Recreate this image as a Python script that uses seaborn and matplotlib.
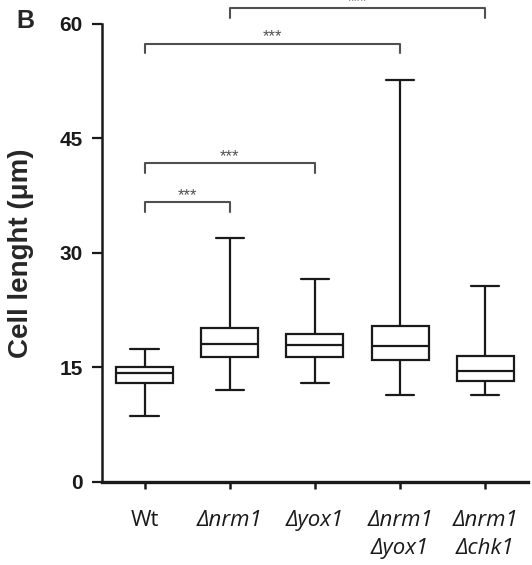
import pandas as pd
import seaborn as sns
import matplotlib.pyplot as plt

# five-number summaries: min, Q1, median, Q3, max
groups = ["Wt", "nrm1", "yox1", "nrm1yox1", "nrm1chk1"]
wt = [8.7, 13.0, 14.3, 15.1, 17.4]
nrm1 = [12.0, 16.3, 18.1, 20.1, 31.9]
yox1 = [12.9, 16.4, 17.9, 19.4, 26.6]
nrm1_yox1 = [11.4, 16.0, 17.8, 20.4, 52.6]
nrm1_chk1 = [11.4, 13.2, 14.5, 16.5, 25.6]

tick_labels = ["Wt", "\u0394nrm1", "\u0394yox1",
               "\u0394nrm1\n\u0394yox1", "\u0394nrm1\n\u0394chk1"]

# significance brackets: (left group, right group, height)
brackets = [(0, 1, 36.6), (0, 2, 41.7), (0, 3, 57.4), (1, 4, 62.0)]

df = pd.DataFrame({
    "group": [g for g, v in zip(groups, [wt, nrm1, yox1, nrm1_yox1, nrm1_chk1]) for _ in v],
    "length": wt + nrm1 + yox1 + nrm1_yox1 + nrm1_chk1,
})

sns.set_style("ticks")
plt.rcParams["font.family"] = ["Liberation Sans", "DejaVu Sans"]

fig = plt.figure(figsize=(5.32, 5.65), dpi=100)
ax = fig.add_axes([0.192, 0.147, 0.80, 0.811])

sns.boxplot(data=df, x="group", y="length", order=groups, whis=(0, 100),
            color="white", linecolor="#1a1a1a", linewidth=1.6, width=0.67,
            ax=ax)

ax.set_xlim(-0.5, 4.5)
ax.set_ylim(0, 60)
ax.set_yticks([0, 15, 30, 45, 60])
ax.set_xticks(range(5))
ax.set_xticklabels(tick_labels, linespacing=1.45)
ax.set_xlabel("")
ax.set_ylabel("Cell lenght (\u03bcm)", fontsize=20, fontweight="bold", labelpad=18)
for lab in ax.get_yticklabels():
    lab.set_fontweight("bold")
    lab.set_fontsize(15)
    lab.set_color("#1a1a1a")
for i, lab in enumerate(ax.get_xticklabels()):
    lab.set_family(["Open Sans", "DejaVu Sans"])
    lab.set_fontsize(16)
    lab.set_color("#1a1a1a")
    if i > 0:
        lab.set_fontstyle("italic")
ax.tick_params(axis="y", length=7, width=1.6, colors="#1a1a1a", pad=7)
ax.tick_params(axis="x", length=5, width=1.8, colors="#1a1a1a", pad=15)

sns.despine(ax=ax)
ax.spines["left"].set_linewidth(1.8)
ax.spines["bottom"].set_linewidth(2.4)
ax.spines["left"].set_color("#1a1a1a")
ax.spines["bottom"].set_color("#1a1a1a")

for a, b, h in brackets:
    ax.plot([a, a, b, b], [h - 1.2, h, h, h - 1.2], color="#505050", lw=1.5,
            clip_on=False)
    ax.text((a + b) / 2, h + 0.3, "***", ha="center", va="baseline",
            fontsize=12, color="#505050", clip_on=False)

fig.text(0.047, 0.962, "B", fontsize=18, fontweight="bold", ha="center", va="center")

fig.savefig("out.png", dpi=100)
